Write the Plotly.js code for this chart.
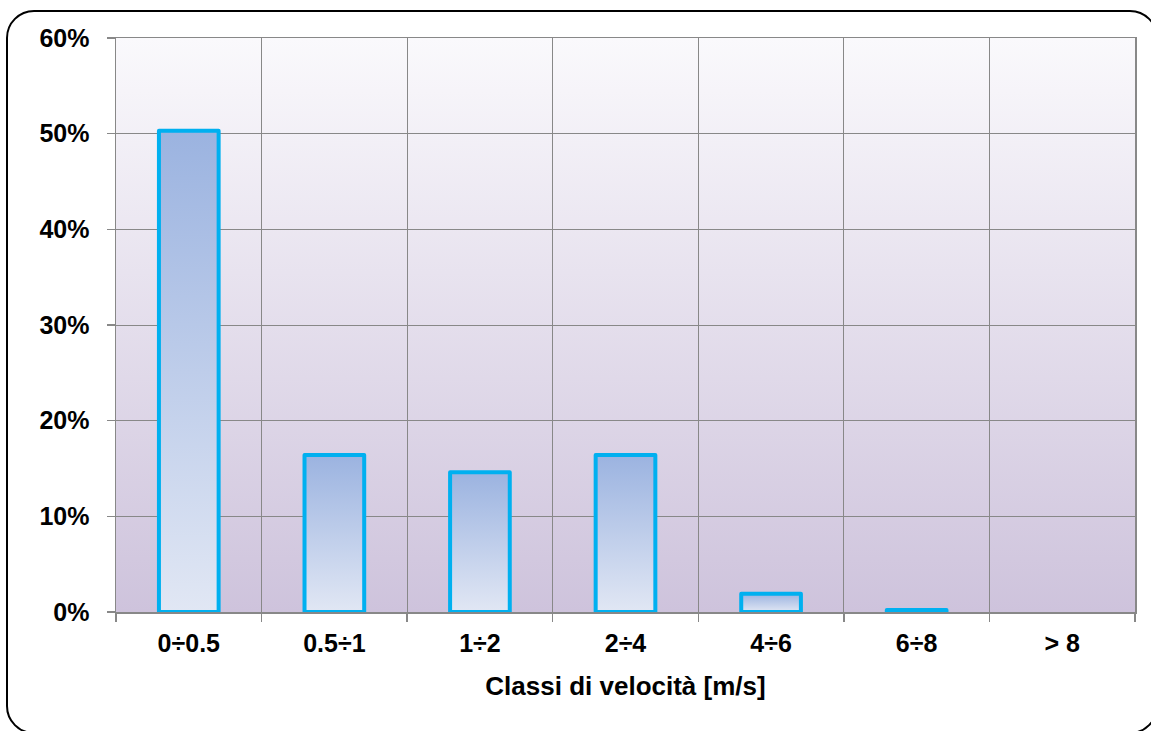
<!DOCTYPE html>
<html>
<head>
<meta charset="utf-8">
<script src="https://cdn.plot.ly/plotly-3.0.1.min.js"></script>
<style>
  html, body { margin: 0; padding: 0; background: #ffffff; }
  #wrap { position: relative; width: 1151px; height: 731px; overflow: hidden; }
  #chart { position: absolute; left: 0; top: 0; width: 1151px; height: 731px; }
  #frame { position: absolute; left: 6px; top: 10px; width: 1148px; height: 720px;
           border: 2px solid #000; border-radius: 28px; pointer-events: none; }
</style>
</head>
<body>
<div id="wrap">
  <div id="chart"></div>
  <div id="frame"></div>
</div>
<script>
// ---- data ----
const categories = ["0÷0.5", "0.5÷1", "1÷2", "2÷4", "4÷6", "6÷8", "> 8"];
const frequencies = [0.503, 0.164, 0.146, 0.164, 0.019, 0.002, 0];
const yTickValues = [0, 0.1, 0.2, 0.3, 0.4, 0.5, 0.6];
const xAxisTitle = "Classi di velocità [m/s]";

const gridColor = "#888888";
const fontFamily = "'Liberation Sans', Arial, sans-serif";

const trace = {
  type: "bar",
  x: categories,
  y: frequencies,
  width: 0.41,
  marker: {
    color: "#c0cdeb",
    line: { color: "#00b0f0", width: frequencies.map(v => (v > 0 ? 4 : 0)) }
  },
  hoverinfo: "skip"
};

const layout = {
  width: 1151,
  height: 731,
  margin: { l: 116, r: 16, t: 38, b: 119 },
  paper_bgcolor: "rgba(0,0,0,0)",
  plot_bgcolor: "#e6e0ec",
  showlegend: false,
  font: { family: fontFamily, color: "#000", size: 25, weight: "bold" },
  xaxis: {
    type: "category",
    range: [-0.5, 6.5],
    tickson: "boundaries",
    showgrid: true,
    gridcolor: gridColor,
    gridwidth: 1,
    showline: true,
    linecolor: gridColor,
    linewidth: 1.5,
    mirror: true,
    ticks: "outside",
    ticklen: 8,
    tickwidth: 1.3,
    tickcolor: gridColor,
    tickfont: { family: fontFamily, size: 25, color: "#000", weight: "bold" },
    ticklabelstandoff: 8,
    title: { text: xAxisTitle, font: { family: fontFamily, size: 26, color: "#000", weight: "bold" }, standoff: 21 },
    fixedrange: true
  },
  yaxis: {
    range: [0, 0.6],
    tickvals: yTickValues,
    tickformat: ".0%",
    showgrid: true,
    gridcolor: gridColor,
    gridwidth: 1,
    zeroline: false,
    showline: true,
    linecolor: gridColor,
    linewidth: 1.5,
    mirror: true,
    ticks: "outside",
    ticklen: 8,
    tickwidth: 1.3,
    tickcolor: gridColor,
    tickfont: { family: fontFamily, size: 25, color: "#000", weight: "bold" },
    ticklabelstandoff: 12,
    fixedrange: true
  }
};

function addGradients(gd) {
  const svg = gd.querySelector("svg.main-svg");
  const ns = "http://www.w3.org/2000/svg";
  let defs = svg.querySelector("defs");
  if (!defs) { defs = document.createElementNS(ns, "defs"); svg.insertBefore(defs, svg.firstChild); }
  function grad(id, stops) {
    const g = document.createElementNS(ns, "linearGradient");
    g.setAttribute("id", id);
    g.setAttribute("x1", "0"); g.setAttribute("y1", "0");
    g.setAttribute("x2", "0"); g.setAttribute("y2", "1");
    stops.forEach(([o, c]) => {
      const s = document.createElementNS(ns, "stop");
      s.setAttribute("offset", o);
      s.setAttribute("stop-color", c);
      g.appendChild(s);
    });
    defs.appendChild(g);
  }
  grad("bgGrad", [["0", "#faf9fc"], ["1", "#cec3dc"]]);
  grad("barGrad", [["0", "#9bb3e0"], ["1", "#e1e7f4"]]);
  gd.querySelectorAll(".bglayer rect.bg").forEach(r => { r.style.fill = "url(#bgGrad)"; });
  gd.querySelectorAll(".barlayer .point path").forEach(p => {
    p.style.fill = "url(#barGrad)";
    p.style.strokeLinejoin = "round";
  });
}

Plotly.newPlot("chart", [trace], layout, { displayModeBar: false, staticPlot: true })
  .then(addGradients);
</script>
</body>
</html>
